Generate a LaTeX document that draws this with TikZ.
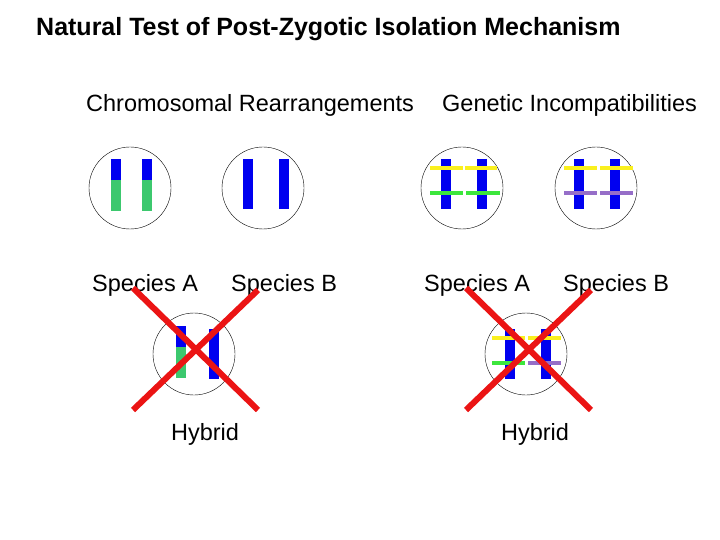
\documentclass[tikz,border=0pt]{standalone}
\usepackage{fontspec}
\setmainfont{Liberation Sans}
\definecolor{cb}{RGB}{0,0,240}
\definecolor{cg}{RGB}{60,200,110}
\definecolor{lg}{RGB}{60,230,60}
\definecolor{cy}{RGB}{250,240,30}
\definecolor{cp}{RGB}{150,110,200}
\definecolor{cr}{RGB}{235,20,20}
\tikzset{cell/.style={circle,draw,thin,minimum size=82pt,inner sep=0pt},
 lbl/.style={anchor=west,inner sep=0pt,font=\fontsize{23.5}{26}\selectfont},
 bar/.style={line width=10pt},
 gene/.style={line width=4pt},
 xline/.style={cr,line width=6pt}}
\begin{document}
\begin{tikzpicture}[x=1pt,y=-1pt]
\useasboundingbox (0,0) rectangle (720,540);
\node[lbl,font=\bfseries\fontsize{25}{28}\selectfont] (t) at (36,29) {Natural Test of Post-Zygotic Isolation Mechanism};
\node[lbl] (s1) at (86,105) {Chromosomal Rearrangements};
\node[lbl] (s2) at (442,105) {Genetic Incompatibilities};
\node[lbl] (a1) at (92,285) {Species A};
\node[lbl] (b1) at (231,285) {Species B};
\node[lbl] (a2) at (424,285) {Species A};
\node[lbl] (b2) at (563,285) {Species B};
\node[font=\fontsize{23.5}{26}\selectfont] (h1) at (205,434) {Hybrid};
\node[font=\fontsize{23.5}{26}\selectfont] (h2) at (535,434) {Hybrid};
% left
\node[cell] (c1) at (130,188) {};
\node[cell] (c2) at (263,188) {};
\node[cell] (c3) at (194,354) {};
\draw[bar,cb] (116,159)--(116,180); \draw[bar,cg] (116,180)--(116,211);
\draw[bar,cb] (147,159)--(147,180); \draw[bar,cg] (147,180)--(147,211);
\draw[bar,cb] (248,159)--(248,209); \draw[bar,cb] (284,159)--(284,209);
\draw[bar,cb] (181,326)--(181,347); \draw[bar,cg] (181,347)--(181,378);
\draw[bar,cb] (214,329)--(214,379);
% right
\node[cell] (d1) at (462,188) {};
\node[cell] (d2) at (596,188) {};
\node[cell] (d3) at (526,354) {};
\draw[bar,cb] (446,159)--(446,209); \draw[bar,cb] (482,159)--(482,209);
\draw[gene,cy] (430,168)--(463,168); \draw[gene,cy] (465,168)--(497,168);
\draw[gene,lg] (430,193)--(463,193); \draw[gene,lg] (466,193)--(500,193);
\draw[bar,cb] (579,159)--(579,209); \draw[bar,cb] (615,159)--(615,209);
\draw[gene,cy] (564,168)--(597,168); \draw[gene,cy] (600,168)--(633,168);
\draw[gene,cp] (564,193)--(597,193); \draw[gene,cp] (600,193)--(633,193);
\draw[bar,cb] (510,329)--(510,379); \draw[bar,cb] (546,329)--(546,379);
\draw[gene,cy] (492,338)--(525,338); \draw[gene,cy] (528,338)--(561,338);
\draw[gene,lg] (492,363)--(525,363); \draw[gene,cp] (528,363)--(561,363);
% crosses
\coordinate (p1) at (133,288); \coordinate (p2) at (258,410);
\coordinate (p3) at (258,290); \coordinate (p4) at (133,410);
\draw[xline] (p1)--(p2); \draw[xline] (p3)--(p4);
\coordinate (q1) at (466,288); \coordinate (q2) at (591,410);
\coordinate (q3) at (591,290); \coordinate (q4) at (466,410);
\draw[xline] (q1)--(q2); \draw[xline] (q3)--(q4);
\end{tikzpicture}
\end{document}
